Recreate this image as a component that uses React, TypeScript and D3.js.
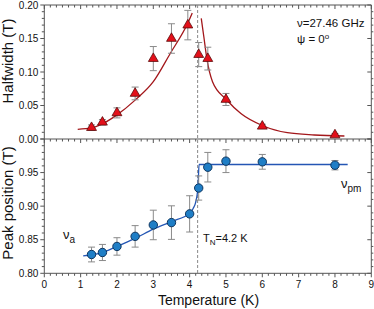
import { useEffect, useRef } from "react";
import * as d3 from "d3";

// halfwidth (top panel)
const tempHW = [1.3, 1.6, 2.0, 2.5, 3.0, 3.5, 3.95, 4.25, 4.5, 5.0, 6.0, 8.0];
const halfwidth = [0.017, 0.025, 0.039, 0.068, 0.12, 0.15, 0.17, 0.126, 0.12, 0.059, 0.019, 0.006];
const halfwidthErr = [0.004, 0.004, 0.0075, 0.0095, 0.018, 0.022, 0.022, 0.018, 0.017, 0.009, 0.003, 0.002];

// fit curves
const hwFitLowT = [0.92, 1.3, 1.54, 2.0, 2.5, 3.0, 3.47, 3.95, 4.07];
const hwFitLowV = [0.0145, 0.0165, 0.021, 0.036, 0.058, 0.0855, 0.128, 0.173, 0.188];
const hwFitHighT = [4.32, 4.39, 4.48, 4.63, 5.01, 5.41, 6.03, 6.69, 7.43, 8.26];
const hwFitHighV = [0.18, 0.153, 0.118, 0.0855, 0.059, 0.038, 0.0194, 0.0094, 0.006, 0.0045];

// peak position (bottom panel)
const tempPP = [1.3, 1.6, 2.0, 2.5, 3.0, 3.5, 4.0, 4.25, 4.5, 5.0, 6.0, 8.0];
const peakPos = [0.828, 0.831, 0.84, 0.855, 0.872, 0.8755, 0.8885, 0.927, 0.958, 0.967, 0.966, 0.961];
const peakErr = [0.011, 0.012, 0.013, 0.016, 0.022, 0.025, 0.027, 0.018, 0.022, 0.017, 0.011, 0.007];

const ppFitT = [1.07, 1.54, 2.0, 2.5, 3.0, 3.5, 4.02, 4.1, 4.16, 4.23, 4.26, 8.35];
const ppFitV = [0.826, 0.83, 0.84, 0.852, 0.8657, 0.877, 0.89, 0.897, 0.9045, 0.929, 0.962, 0.962];

const TN = 4.22;
const xTicks = d3.range(0, 10);
const hwTicks = [0, 0.05, 0.1, 0.15, 0.2];
const ppTicks = [0.8, 0.85, 0.9, 0.95];

const FONT = "Liberation Sans, Arial, sans-serif";
const AXIS = "#555";

export default function App() {
  const ref = useRef<SVGSVGElement>(null);

  useEffect(() => {
    const svg = d3.select(ref.current);
    svg.selectAll("*").remove();

    const x = d3.scaleLinear().domain([0, 9]).range([44.3, 371.3]);
    const yTop = d3.scaleLinear().domain([0, 0.2]).range([139, 5]);
    const yBot = d3.scaleLinear().domain([0.8, 1.0]).range([273.3, 139]);

    const g = svg.append("g");
    const left = x(0), right = x(9);

    const line = (x1: number, y1: number, x2: number, y2: number) =>
      g.append("line").attr("x1", x1).attr("y1", y1).attr("x2", x2).attr("y2", y2)
        .attr("stroke", AXIS).attr("stroke-width", 1);

    // x minor ticks, 5 per unit
    const xMinor = d3.range(0, 9, 1 / 6).filter((v) => Math.abs(v - Math.round(v)) > 0.01);
    const xMajor = xTicks;
    const hAxis = (yy: number, dir: number) => {
      line(left, yy, right, yy);
      xMajor.forEach((v) => line(x(v), yy, x(v), yy + dir * 4));
      xMinor.forEach((v) => line(x(v), yy, x(v), yy + dir * 2.5));
    };
    hAxis(yTop(0.2), 1);
    hAxis(yTop(0), 1);
    hAxis(yBot(0.8), 1);

    const vAxis = (y: d3.ScaleLinear<number, number>, lo: number, hi: number) => {
      line(left, y(lo), left, y(hi));
      line(right, y(lo), right, y(hi));
      const major = d3.range(lo, hi + 1e-6, 0.05);
      const minor = d3.range(lo, hi + 1e-6, 0.01).filter((v) => major.every((m) => Math.abs(m - v) > 1e-6));
      major.forEach((v) => {
        line(left - 4, y(v), left, y(v));
        line(right - 4, y(v), right, y(v));
      });
      minor.forEach((v) => {
        line(left - 2.5, y(v), left, y(v));
        line(right, y(v), right + 2, y(v));
      });
    };
    vAxis(yTop, 0, 0.2);
    vAxis(yBot, 0.8, 1.0);

    const text = (s: string, tx: number, ty: number, size: number, anchor = "start") =>
      g.append("text").attr("x", tx).attr("y", ty).attr("font-size", size)
        .attr("font-family", FONT).attr("text-anchor", anchor).attr("fill", "#111").text(s);

    hwTicks.forEach((v) => text(v.toFixed(2), left - 6, yTop(v) + 3.5, 10, "end"));
    ppTicks.forEach((v) => text(v.toFixed(2), left - 6, yBot(v) + 3.5, 10, "end"));
    xTicks.forEach((v) => text(String(v), x(v), 288, 10, "middle"));

    // Neel temperature marker
    g.append("line").attr("x1", x(TN)).attr("x2", x(TN))
      .attr("y1", yTop(0.2)).attr("y2", yBot(0.8))
      .attr("stroke", "#888").attr("stroke-width", 1).attr("stroke-dasharray", "3,2");

    // fit curves
    const fit = (ts: number[], vs: number[], y: d3.ScaleLinear<number, number>, color: string) => {
      const pts = ts.map((t, i) => [t, vs[i]] as [number, number]);
      g.append("path").datum(pts).attr("fill", "none").attr("stroke", color).attr("stroke-width", 1.3)
        .attr("d", d3.line<[number, number]>().x((d) => x(d[0])).y((d) => y(d[1])).curve(d3.curveMonotoneX));
    };
    fit(hwFitLowT, hwFitLowV, yTop, "#a3171b");
    fit(hwFitHighT, hwFitHighV, yTop, "#a3171b");
    fit(ppFitT, ppFitV, yBot, "#2456b4");

    const errBars = (ts: number[], vs: number[], es: number[], y: d3.ScaleLinear<number, number>) => {
      ts.forEach((t, i) => {
        const cx = x(t);
        const y1 = y(vs[i] - es[i]), y2 = y(vs[i] + es[i]);
        const eg = g.append("g").attr("stroke", "#8a8a8a").attr("stroke-width", 1);
        eg.append("line").attr("x1", cx).attr("x2", cx).attr("y1", y1).attr("y2", y2);
        eg.append("line").attr("x1", cx - 3.5).attr("x2", cx + 3.5).attr("y1", y1).attr("y2", y1);
        eg.append("line").attr("x1", cx - 3.5).attr("x2", cx + 3.5).attr("y1", y2).attr("y2", y2);
      });
    };
    errBars(tempHW, halfwidth, halfwidthErr, yTop);
    errBars(tempPP, peakPos, peakErr, yBot);

    const tri = d3.symbol().type(d3.symbolTriangle).size(42);
    g.selectAll(".tri").data(tempHW).enter().append("path")
      .attr("transform", (t, i) => `translate(${x(t)},${yTop(halfwidth[i])})`)
      .attr("d", tri()!).attr("fill", "#e3101a").attr("stroke", "#5a0a0a").attr("stroke-width", 0.8);

    g.selectAll(".dot").data(tempPP).enter().append("circle")
      .attr("cx", (t) => x(t)).attr("cy", (t, i) => yBot(peakPos[i])).attr("r", 4.2)
      .attr("fill", "#1f7ec6").attr("stroke", "#0d355f").attr("stroke-width", 1);

    // annotations
    const t1 = text("", 297, 27.3, 11.5);
    t1.text("ν=27.46 GHz");
    const t2 = text("", 297, 43, 11.5);
    t2.append("tspan").text("ψ = 0");
    t2.append("tspan").attr("font-size", 8).attr("dy", -4.5).text("o");

    const na = text("", 63, 239, 13);
    na.append("tspan").text("ν");
    na.append("tspan").attr("font-size", 10).attr("dy", 4).text("a");

    const npm = text("", 341, 188, 13);
    npm.append("tspan").text("ν");
    npm.append("tspan").attr("font-size", 10).attr("dy", 4).text("pm");

    const tn = text("", 203, 242.3, 11);
    tn.append("tspan").text("T");
    tn.append("tspan").attr("font-size", 8).attr("dy", 3).text("N");
    tn.append("tspan").attr("dy", -3).text("=4.2 K");

    // axis titles
    g.append("text").attr("transform", "translate(12.5,61) rotate(-90)").attr("text-anchor", "middle")
      .attr("font-family", FONT).attr("font-size", 15).attr("fill", "#111").text("Halfwidth (T)");
    g.append("text").attr("transform", "translate(12.5,203) rotate(-90)").attr("text-anchor", "middle")
      .attr("font-family", FONT).attr("font-size", 15).attr("fill", "#111").text("Peak position (T)");
    text("Temperature (K)", 208.5, 305, 14, "middle");
  }, []);

  return (
    <svg ref={ref} width={374} height={309}
      style={{ position: "absolute", left: 0, top: 0, background: "#fff" }} />
  );
}
